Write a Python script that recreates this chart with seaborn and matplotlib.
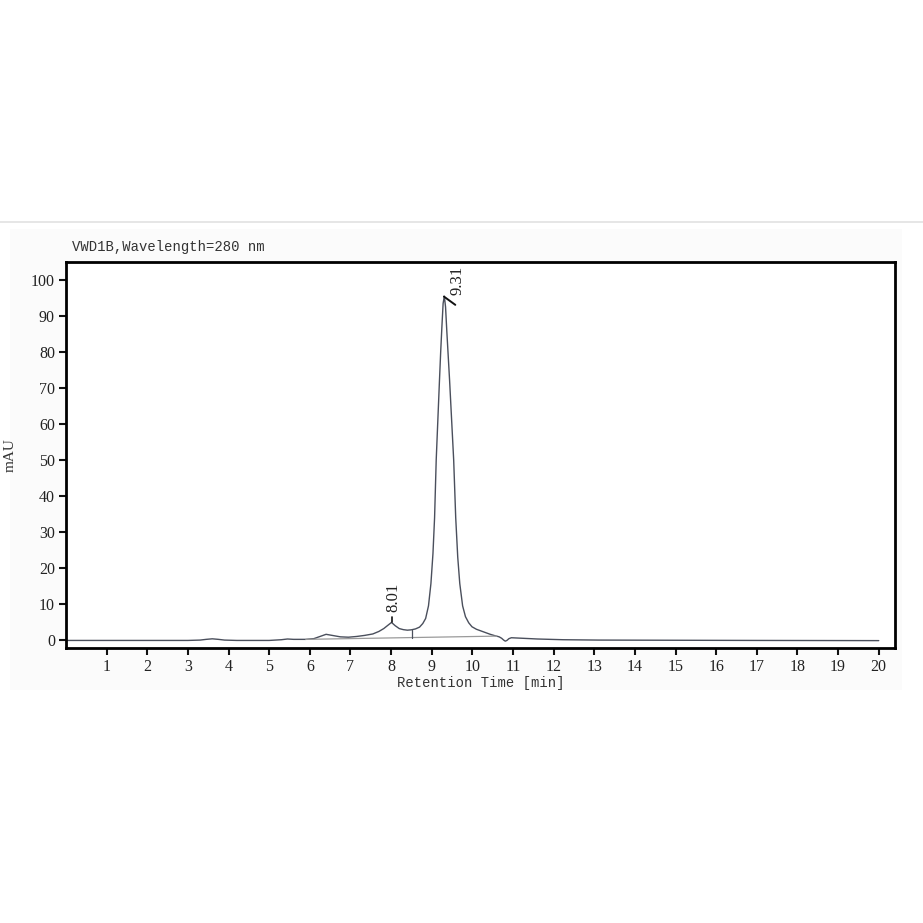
import matplotlib
matplotlib.use("Agg")
import matplotlib.pyplot as plt
import seaborn as sns
import pandas as pd

sns.set_style("white")

# chromatogram trace (min, mAU)
rt = [0, 1, 2, 3, 3.3, 3.45, 3.6, 3.75, 3.9, 4.2, 5.0, 5.3, 5.45, 5.6, 5.9,
      6.1, 6.25, 6.4, 6.55, 6.75, 6.95, 7.15, 7.35, 7.55, 7.7, 7.82, 7.92,
      8.01, 8.1, 8.2, 8.3, 8.4, 8.5, 8.6, 8.7, 8.78, 8.85, 8.92, 8.98, 9.03,
      9.07, 9.11, 9.15, 9.19, 9.22, 9.25, 9.28, 9.31, 9.34, 9.37, 9.40, 9.44,
      9.49, 9.54, 9.59, 9.64, 9.69, 9.76, 9.83, 9.91, 9.99, 10.1, 10.27,
      10.44, 10.56, 10.66, 10.72, 10.77, 10.81, 10.85, 10.9, 10.96, 11.05,
      11.42, 11.6, 12.23, 13.1, 15, 17, 20]
mau = [-0.1, -0.1, -0.1, -0.1, 0.0, 0.2, 0.35, 0.2, 0.0, -0.1, -0.1, 0.1,
       0.3, 0.2, 0.2, 0.4, 1.0, 1.6, 1.3, 0.9, 0.8, 1.0, 1.3, 1.7, 2.4, 3.2,
       4.1, 4.9, 4.0, 3.2, 2.9, 2.75, 2.85, 3.1, 3.6, 4.6, 6.0, 9.5, 15.7,
       24, 34, 50, 61, 72, 80, 87, 93.5, 95.5, 92.5, 86, 80, 72, 61, 50, 34,
       23, 15.7, 9.5, 6.5, 4.8, 3.7, 3.0, 2.3, 1.6, 1.2, 0.9, 0.5, 0.0, -0.3,
       -0.1, 0.4, 0.65, 0.6, 0.4, 0.3, 0.1, 0.0, -0.05, -0.1, -0.15]

# integration baseline and peak info
base_rt = [5.9, 10.6]
base_mau = [0.2, 1.1]
drop_rt = 8.51
drop_mau = [0.70, 2.85]
peak_rt = [8.01, 9.31]
peak_lbl = ["8.01", "9.31"]

xticks = list(range(1, 21))
yticks = list(range(0, 101, 10))

trace = pd.DataFrame({"rt": rt, "mau": mau})

fig = plt.figure(figsize=(9.23, 9.23), dpi=100)
# faint report panel behind the chart
fig.add_artist(plt.Line2D([0, 1], [1 - 222 / 923] * 2, color="#e2e2e2", lw=1.2))
fig.add_artist(plt.Rectangle((10 / 923, 1 - 690 / 923), 892 / 923, 461 / 923,
                             facecolor="#fbfbfb", edgecolor="none", zorder=-5))
ax = fig.add_axes([66 / 923, 1 - 648 / 923, 829 / 923, 386 / 923])

sns.lineplot(data=trace, x="rt", y="mau", ax=ax, color="#4a4f5c", lw=1.0)
sns.lineplot(x=base_rt, y=base_mau, ax=ax, color="#9a9a9a", lw=0.9)
ax.plot([drop_rt, drop_rt], drop_mau, color="#4a4f5c", lw=0.9)

# peak markers
ax.plot([8.01, 8.01], [5.0, 6.3], color="#111111", lw=1.2)
ax.plot([9.30, 9.58], [95.4, 93.1], color="#111111", lw=1.4)
ax.text(8.05, 11.8, peak_lbl[0], rotation=90, ha="center", va="center",
        family="Liberation Serif", fontsize=12, color="#222222")
ax.text(9.64, 99.8, peak_lbl[1], rotation=90, ha="center", va="center",
        family="Liberation Serif", fontsize=12, color="#222222")

ax.set_xlim(0, 20.4)
ax.set_ylim(-2.2, 105)
ax.set_xticks(xticks)
ax.set_yticks(yticks)
ax.tick_params(bottom=True, left=True, direction="out", length=5, width=1.5,
               color="#111111", labelsize=11.5, pad=3)
for lab in ax.get_xticklabels() + ax.get_yticklabels():
    lab.set_family("Liberation Serif")
    lab.set_color("#222222")
for sp in ax.spines.values():
    sp.set_linewidth(2)
    sp.set_color("#000000")
ax.set_facecolor("white")

ax.set_xlabel("Retention Time [min]", family="Liberation Mono", fontsize=10,
              color="#333333", labelpad=1)
ax.set_ylabel("mAU", family="Liberation Serif", fontsize=11, color="#333333",
              labelpad=10)
ax.set_title("VWD1B,Wavelength=280 nm", loc="left", family="Liberation Mono",
             fontsize=10, color="#333333", pad=8, x=0.007)

fig.savefig("out.png", dpi=100, facecolor="white")
plt.close(fig)
